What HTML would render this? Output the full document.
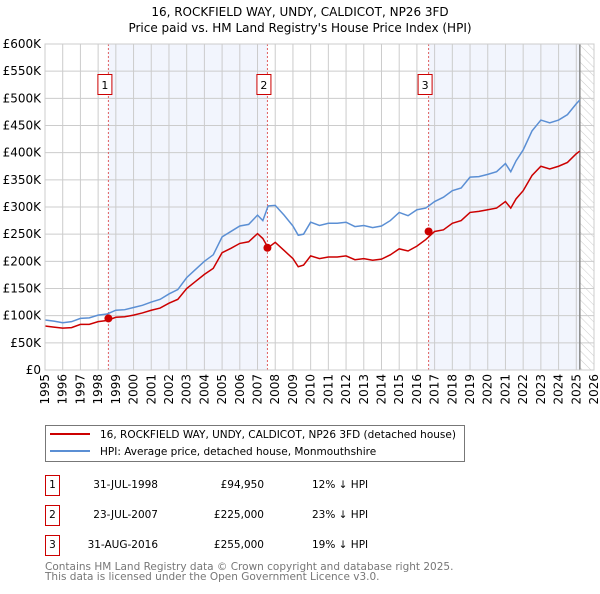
<!DOCTYPE html>
<html><head><meta charset="utf-8"><style>
body{margin:0;background:#fff;font-family:"DejaVu Sans","Liberation Sans",sans-serif;}
svg text{font-family:"DejaVu Sans","Liberation Sans",sans-serif;}
</style></head><body>
<svg id="chart" width="600" height="590" xmlns="http://www.w3.org/2000/svg">
<defs><pattern id="hatch" width="6" height="6" patternUnits="userSpaceOnUse" patternTransform="rotate(-45)"><line x1="0" y1="0" x2="0" y2="6" stroke="#ccc" stroke-width="1"/></pattern></defs>
<text x="300" y="16" text-anchor="middle" font-size="12">16, ROCKFIELD WAY, UNDY, CALDICOT, NP26 3FD</text>
<text x="300" y="32" text-anchor="middle" font-size="12">Price paid vs. HM Land Registry's House Price Index (HPI)</text>
<g id="plot"></g>
<g>
<rect x="45.5" y="425.5" width="419" height="36" fill="#fff" stroke="#777"/>
<line x1="50" y1="434" x2="90" y2="434" stroke="#cc0000" stroke-width="2"/>
<text x="100" y="438" font-size="10.5">16, ROCKFIELD WAY, UNDY, CALDICOT, NP26 3FD (detached house)</text>
<line x1="50" y1="451" x2="90" y2="451" stroke="#5b8fd4" stroke-width="2"/>
<text x="100" y="455" font-size="10.5">HPI: Average price, detached house, Monmouthshire</text>
</g>
<g font-size="10.5">
<rect x="45.5" y="475.5" width="14" height="20" fill="#fff" stroke="#cc0000"/><text x="52.5" y="488" text-anchor="middle">1</text>
<text x="158" y="488" text-anchor="end">31-JUL-1998</text><text x="264" y="488" text-anchor="end">£94,950</text><text x="312" y="488">12% ↓ HPI</text>
<rect x="45.5" y="505.5" width="14" height="20" fill="#fff" stroke="#cc0000"/><text x="52.5" y="518" text-anchor="middle">2</text>
<text x="158" y="518" text-anchor="end">23-JUL-2007</text><text x="264" y="518" text-anchor="end">£225,000</text><text x="312" y="518">23% ↓ HPI</text>
<rect x="45.5" y="535.5" width="14" height="20" fill="#fff" stroke="#cc0000"/><text x="52.5" y="548" text-anchor="middle">3</text>
<text x="158" y="548" text-anchor="end">31-AUG-2016</text><text x="264" y="548" text-anchor="end">£255,000</text><text x="312" y="548">19% ↓ HPI</text>
</g>
<text x="45" y="570" font-size="10.5" fill="#777">Contains HM Land Registry data © Crown copyright and database right 2025.</text>
<text x="45" y="580" font-size="10.5" fill="#777">This data is licensed under the Open Government Licence v3.0.</text>
</svg>
<script>
const years=[1995,1995.5,1996,1996.5,1997,1997.5,1998,1998.5,1999,1999.5,2000,2000.5,2001,2001.5,2002,2002.5,2003,2003.5,2004,2004.5,2005,2005.5,2006,2006.5,2007,2007.3,2007.6,2008,2008.5,2009,2009.3,2009.6,2010,2010.5,2011,2011.5,2012,2012.5,2013,2013.5,2014,2014.5,2015,2015.5,2016,2016.5,2017,2017.5,2018,2018.5,2019,2019.5,2020,2020.5,2021,2021.3,2021.6,2022,2022.5,2023,2023.5,2024,2024.5,2025,2025.2];
const hpiValues=[92,90,87,89,95,96,101,103,110,111,115,119,125,130,140,148,170,185,200,212,245,255,265,268,285,275,302,303,285,265,248,250,272,266,270,270,272,264,266,262,265,275,290,284,295,298,310,318,330,335,355,356,360,365,380,365,385,405,440,460,455,460,470,490,497];
const priceValues=[81,79,77,78,84,84,89,91,97,98,101,105,110,114,123,130,150,163,176,187,216,224,233,236,251,242,225,235,220,205,190,193,210,205,208,208,210,203,205,202,204,212,223,219,228,240,255,258,270,275,290,292,295,298,310,298,315,330,358,375,370,375,382,398,403];
const saleYears=[1998.58,2007.56,2016.66];
const salePrices=[94.95,225,255];
const saleLabels=["1","2","3"];
const yTicks=[0,50,100,150,200,250,300,350,400,450,500,550,600];
const yTickLabels=["£0","£50K","£100K","£150K","£200K","£250K","£300K","£350K","£400K","£450K","£500K","£550K","£600K"];
const xTicks=[1995,1996,1997,1998,1999,2000,2001,2002,2003,2004,2005,2006,2007,2008,2009,2010,2011,2012,2013,2014,2015,2016,2017,2018,2019,2020,2021,2022,2023,2024,2025,2026];
const dataEnd=2025.2;

const X0=45,X1=594,Y0=370,Y1=44;
const xs=y=>X0+(y-1995)/(2026-1995)*(X1-X0);
const ys=v=>Y0-v/600*(Y0-Y1);
const NS="http://www.w3.org/2000/svg";
const plot=document.getElementById('plot');
function mk(tag,attrs,parent){const e=document.createElementNS(NS,tag);for(const k in attrs)e.setAttribute(k,attrs[k]);(parent||plot).appendChild(e);return e;}

let r=mk('rect',{x:X0,y:Y1,width:X1-X0,height:Y0-Y1,fill:'#fff'});


let s1=mk('rect',{x:xs(saleYears[0]),y:Y1,width:xs(saleYears[1])-xs(saleYears[0]),height:Y0-Y1,fill:'#f2f5fd'});


let s2=mk('rect',{x:xs(saleYears[2]),y:Y1,width:xs(dataEnd)-xs(saleYears[2]),height:Y0-Y1,fill:'#f2f5fd'});


let h=mk('rect',{x:xs(dataEnd),y:Y1,width:X1-xs(dataEnd),height:Y0-Y1,fill:'url(#hatch)'});



yTicks.forEach((t,i)=>{
 const l=mk('line',{x1:X0,x2:X1,y1:ys(t),y2:ys(t),stroke:'#ccc','stroke-width':1});
 
 
 const tx=mk('text',{x:X0-4,y:ys(t)+4,'text-anchor':'end','font-size':12});
 tx.textContent=yTickLabels[i];
 
 
});
xTicks.forEach(t=>{
 const l=mk('line',{x1:xs(t),x2:xs(t),y1:Y1,y2:Y0,stroke:'#ccc','stroke-width':1});
 
 
 const tx=mk('text',{x:0,y:0,'text-anchor':'end','font-size':12,transform:`translate(${xs(t)+4},374) rotate(-90)`});
 tx.textContent=t;
 
 
});
let el=mk('line',{x1:xs(dataEnd),x2:xs(dataEnd),y1:Y1,y2:Y0,stroke:'#888','stroke-width':1.5});



saleYears.forEach((sy,i)=>{
 const l=mk('line',{x1:xs(sy),x2:xs(sy),y1:Y1,y2:Y0,stroke:'#e06060','stroke-width':1,'stroke-dasharray':'2,2'});
 
 
 const b=mk('rect',{x:xs(sy)-10.5,y:74.5,width:14,height:20,fill:'#fff',stroke:'#cc0000'});
 
 
 const t=mk('text',{x:xs(sy)-3.5,y:89,'text-anchor':'middle','font-size':11});
 t.textContent=saleLabels[i];
 
 
});

let hp=mk('polyline',{points:years.map((y,i)=>xs(y)+','+ys(hpiValues[i])).join(' '),fill:'none',stroke:'#5b8fd4','stroke-width':1.5});


let pp=mk('polyline',{points:years.map((y,i)=>xs(y)+','+ys(priceValues[i])).join(' '),fill:'none',stroke:'#cc0000','stroke-width':1.5});


saleYears.forEach((sy,i)=>{
 const c=mk('circle',{cx:xs(sy),cy:ys(salePrices[i]),r:4,fill:'#cc0000'});
 
 
});
let fr=mk('rect',{x:X0,y:Y1,width:X1-X0,height:Y0-Y1,fill:'none',stroke:'#ccc'});


</script>
</body></html>
